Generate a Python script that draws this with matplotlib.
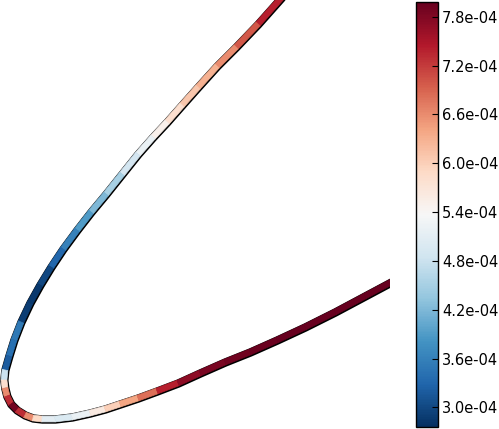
import numpy as np
import matplotlib
matplotlib.use("Agg")
import matplotlib.pyplot as plt
from matplotlib.collections import PolyCollection

# surface points (image-like coords, y grows downward)
xs = [282, 258, 236, 217, 198, 182, 167, 153, 138, 122, 106, 91, 77, 63, 51, 40,
      30, 21, 14, 9, 5, 4, 5, 7, 11, 17, 25, 33, 42, 55, 72, 90, 105, 120, 138,
      157, 178, 200, 225, 250, 277, 305, 335, 365, 395]
ys = [-3, 24, 47, 66, 87, 105, 122, 137, 154, 174, 194, 212, 230, 249, 267, 285,
      303, 322, 340, 356, 370, 380, 388, 396, 404, 410, 415, 418, 419, 419, 417,
      413, 409, 404, 398, 391, 383, 373, 362, 352, 340, 327, 312, 296, 280]
# value on each segment
vals = [7.4, 7.0, 6.6, 6.3, 6.1, 5.8, 5.5, 5.2, 4.9, 4.5, 4.2, 3.9, 3.6, 3.3,
        3.0, 2.85, 2.9, 3.5, 3.4, 3.2, 4.8, 5.8, 6.6, 7.3, 7.9, 7.3, 6.6, 5.9,
        5.1, 5.0, 5.2, 5.6, 6.0, 6.4, 6.8, 7.4, 7.7, 7.85, 7.9, 7.95, 7.98,
        7.98, 7.98, 7.98]
vals = np.array(vals) * 1e-4
vmin, vmax = 2.76e-4, 7.98e-4
cticks = [3.0e-4, 3.6e-4, 4.2e-4, 4.8e-4, 5.4e-4, 6.0e-4, 6.6e-4, 7.2e-4, 7.8e-4]

fig = plt.figure(figsize=(4.99, 4.29), dpi=100)
ax = fig.add_axes([0, 0, 390 / 499, 1])
cax = fig.add_axes([416 / 499, 2 / 429, 22 / 499, 425 / 429])

x = np.array(xs, float)
y = np.array(ys, float)
tx, ty = np.gradient(x), np.gradient(y)
nrm = np.hypot(tx, ty)
nx, ny = -ty / nrm, tx / nrm

def band(half, dx=0.0, dy=0.0):
    a = np.column_stack([x + half * nx + dx, y + half * ny + dy])
    b = np.column_stack([x - half * nx + dx, y - half * ny + dy])
    return a, b

# black rim under the coloured strip, nudged down/right a bit
a, b = band(4.2, 0.35, 0.5)
ax.fill(np.r_[a[:, 0], b[::-1, 0]], np.r_[a[:, 1], b[::-1, 1]], color='black', lw=0,
        zorder=1)

a, b = band(2.9)
quads = [np.array([a[i], a[i + 1], b[i + 1], b[i]]) for i in range(len(x) - 1)]
pc = PolyCollection(quads, cmap='RdBu_r', norm=plt.Normalize(vmin, vmax),
                    linewidths=0.5, zorder=2)
pc.set_array(vals)
pc.set_edgecolor('face')
ax.add_collection(pc)

ax.set_xlim(0, 390)
ax.set_ylim(429, 0)
ax.axis('off')

cb = fig.colorbar(pc, cax=cax, ticks=cticks, format='%.1e')
cb.ax.tick_params(direction='in', length=4, labelsize=10.5, pad=3)
cb.outline.set_linewidth(1.0)

fig.savefig("out.png", dpi=100)
